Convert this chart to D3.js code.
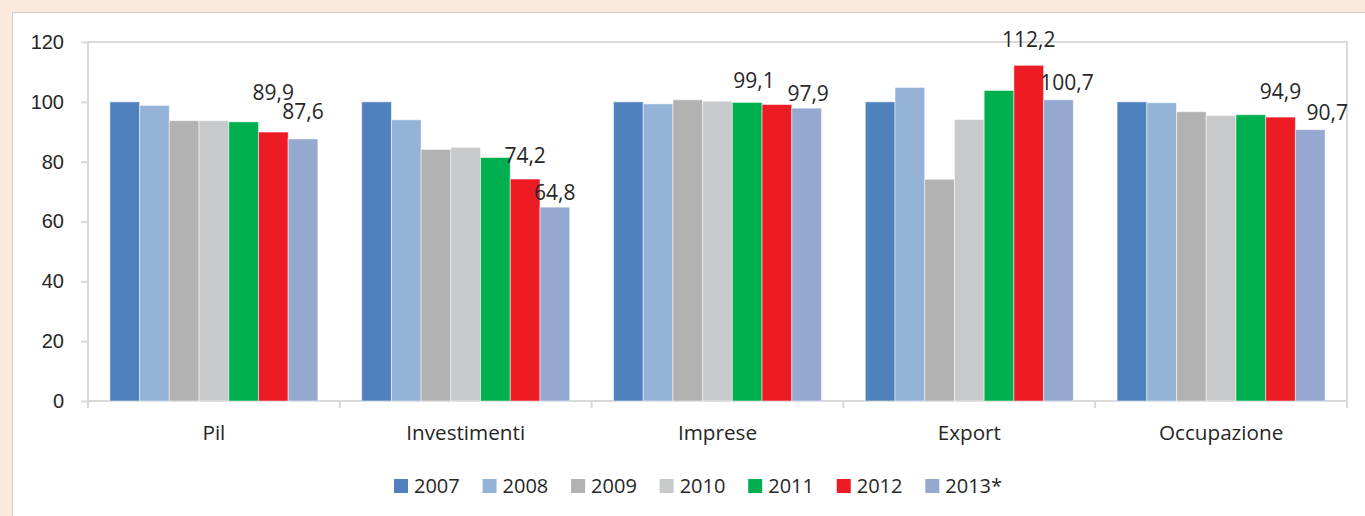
<!DOCTYPE html>
<html lang="it">
<head>
<meta charset="UTF-8">
<title>Indicatori 2007-2013</title>
<script src="https://d3js.org/d3.v7.min.js"></script>
<style>
  body { margin: 0; background: #fbe9db; }
  svg { display: block; font-family: 'Open Sans', sans-serif; }
  .lbl { fill: #262626; }
</style>
</head>
<body>
<div id="chart"></div>
<script>
// data
const categories = ["Pil", "Investimenti", "Imprese", "Export", "Occupazione"];
const years = ["2007", "2008", "2009", "2010", "2011", "2012", "2013*"];
const v2007 = [100, 100, 100, 100, 100];
const v2008 = [98.8, 94.0, 99.3, 104.8, 99.7];
const v2009 = [93.7, 84.1, 100.7, 74.1, 96.7];
const v2010 = [93.7, 84.8, 100.2, 94.1, 95.4];
const v2011 = [93.3, 81.4, 99.8, 103.8, 95.7];
const v2012 = [89.9, 74.2, 99.1, 112.2, 94.9];
const v2013 = [87.6, 64.8, 97.9, 100.7, 90.7];
const yTicks = [0, 20, 40, 60, 80, 100, 120];
const colors = ["#4f81bd", "#95b3d7", "#b2b2b2", "#c8c9ca", "#00b050", "#ed1c24", "#95a9d0"];

const series = [v2007, v2008, v2009, v2010, v2011, v2012, v2013];

// labels only on the last two years, nudged like in the original
const labelled = {5: [[0, -40], [0, -24], [-23, -24], [0, -25.5], [0, -25.5]],
                  6: [[0, -27], [0, -14.5], [1.5, -15], [8.5, -17], [17, -17]]};

const W = 1365, H = 516;
const plot = {left: 88, right: 1347, top: 42, bottom: 401};

const svg = d3.select("#chart").append("svg")
    .attr("width", W).attr("height", H);

// white panel
svg.append("rect")
    .attr("x", 12.5).attr("y", 12.5)
    .attr("width", W).attr("height", H)
    .attr("fill", "#fff").attr("stroke", "#cfcfcf");

const x0 = d3.scaleBand().domain(categories).range([plot.left, plot.right]);
const gap = x0.bandwidth() * 0.087;
const x1 = d3.scaleBand().domain(years).range([gap, x0.bandwidth() - gap]);
const y = d3.scaleLinear().domain([0, 120]).range([plot.bottom, plot.top]);

// plot frame
svg.append("path")
    .attr("d", `M${plot.left},${plot.bottom}V${plot.top}H${plot.right}V${plot.bottom + 7}`)
    .attr("fill", "none").attr("stroke", "#d9d9d9").attr("stroke-width", 2);

// y axis
const yAxis = svg.append("g")
    .attr("transform", `translate(${plot.left},0)`)
    .call(d3.axisLeft(y).tickValues(yTicks).tickSize(7).tickPadding(17));
yAxis.select(".domain").remove();
yAxis.selectAll("line").attr("stroke", "#d9d9d9").attr("stroke-width", 2);
yAxis.selectAll("text").attr("class", "lbl").style("font-size", "20px");

// bottom axis line + category ticks
svg.append("line")
    .attr("x1", plot.left).attr("x2", plot.right)
    .attr("y1", plot.bottom).attr("y2", plot.bottom)
    .attr("stroke", "#d9d9d9").attr("stroke-width", 2);
svg.append("g").selectAll("line")
    .data(d3.range(categories.length + 1))
    .join("line")
    .attr("x1", i => plot.left + i * x0.step())
    .attr("x2", i => plot.left + i * x0.step())
    .attr("y1", plot.bottom).attr("y2", plot.bottom + 7)
    .attr("stroke", "#d9d9d9").attr("stroke-width", 2);

svg.append("g").selectAll("text")
    .data(categories)
    .join("text")
    .attr("class", "lbl")
    .attr("x", d => x0(d) + x0.bandwidth() / 2)
    .attr("y", 440)
    .attr("text-anchor", "middle")
    .style("font-size", "20.7px")
    .text(d => d);

// bars
const groups = svg.append("g").selectAll("g")
    .data(categories)
    .join("g")
    .attr("transform", d => `translate(${x0(d)},0)`);

groups.selectAll("rect")
    .data((c, ci) => years.map((yr, si) => ({yr, si, ci, v: series[si][ci]})))
    .join("rect")
    .attr("x", d => x1(d.yr))
    .attr("width", x1.bandwidth())
    .attr("y", d => y(d.v))
    .attr("height", d => y(0) - y(d.v))
    .attr("fill", d => colors[d.si])
    .attr("stroke", "#ffffff").attr("stroke-opacity", 0.5).attr("stroke-width", 1);

// data labels
Object.keys(labelled).forEach(si => {
    si = +si;
    svg.append("g").selectAll("text")
        .data(categories)
        .join("text")
        .attr("class", "lbl")
        .attr("x", (c, ci) => x0(c) + x1(years[si]) + x1.bandwidth() / 2 + labelled[si][ci][0])
        .attr("y", (c, ci) => y(series[si][ci]) + labelled[si][ci][1])
        .attr("dy", "0.36em")
        .attr("text-anchor", "middle")
        .style("font-size", "21px")
        .text((c, ci) => d3.format(".1f")(series[si][ci]).replace(".", ","));
});

// legend
const leg = svg.append("g").selectAll("g")
    .data(years)
    .join("g")
    .attr("transform", (d, i) => `translate(${394 + i * 88.55},479)`);
leg.append("rect")
    .attr("width", 14).attr("height", 14)
    .attr("fill", (d, i) => colors[i]);
leg.append("text")
    .attr("class", "lbl")
    .attr("x", 20).attr("y", 7).attr("dy", "0.36em")
    .style("font-size", "20px")
    .text(d => d);
</script>
</body>
</html>
